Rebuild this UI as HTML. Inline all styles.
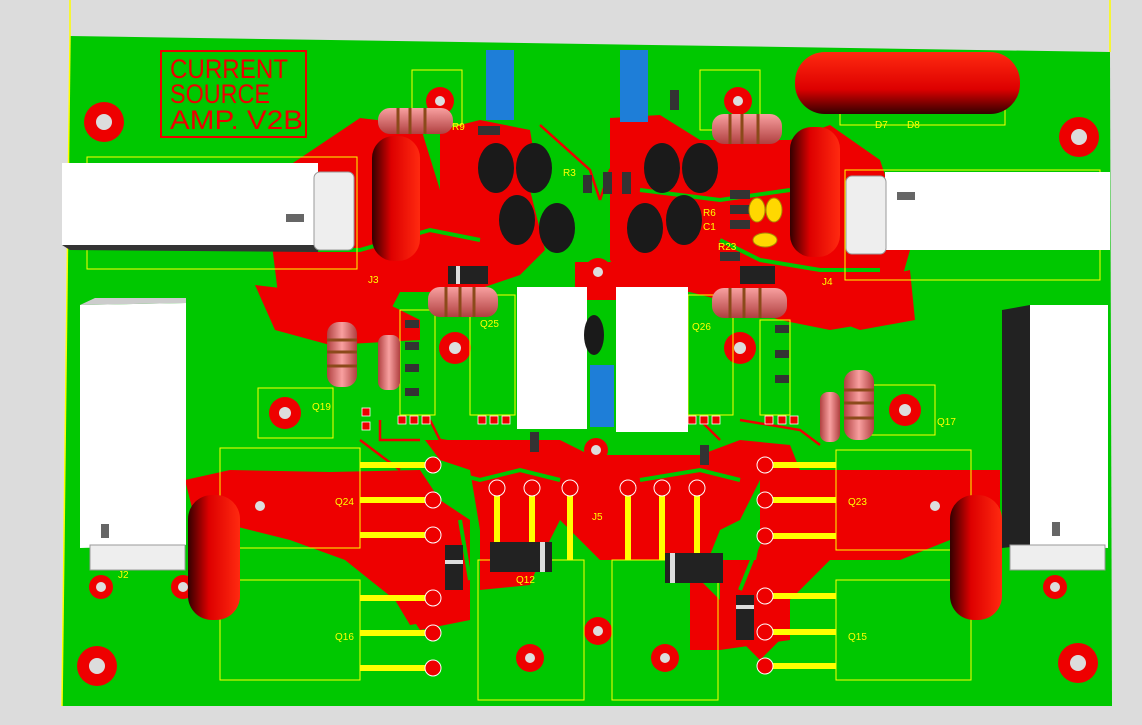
<!DOCTYPE html>
<html><head><style>
html,body{margin:0;padding:0;background:#dcdcdc;}
svg{display:block;font-family:"Liberation Sans",sans-serif;}
</style></head><body>
<svg width="1142" height="725" viewBox="0 0 1142 725" xmlns="http://www.w3.org/2000/svg">
<defs>
<linearGradient id="cap" x1="0" y1="0" x2="0" y2="1"><stop offset="0" stop-color="#ff2a10"/><stop offset="0.6" stop-color="#d00"/><stop offset="1" stop-color="#300"/></linearGradient>
<linearGradient id="capv" x1="0" y1="0" x2="1" y2="0"><stop offset="0" stop-color="#300"/><stop offset="0.4" stop-color="#d00"/><stop offset="1" stop-color="#ff2a10"/></linearGradient>
<linearGradient id="res" x1="0" y1="0" x2="0" y2="1"><stop offset="0" stop-color="#f8a0a0"/><stop offset="1" stop-color="#b04040"/></linearGradient>
<linearGradient id="resv" x1="0" y1="0" x2="1" y2="0"><stop offset="0" stop-color="#b04040"/><stop offset="0.5" stop-color="#f8a0a0"/><stop offset="1" stop-color="#b04040"/></linearGradient>
</defs>
<rect width="1142" height="725" fill="#dcdcdc"/>
<line x1="70" y1="0" x2="70" y2="36" stroke="#ff0" stroke-width="1.5"/>
<line x1="1110" y1="0" x2="1110" y2="52" stroke="#ff0" stroke-width="1.5"/>
<polygon points="70,36 1110,52 1112,706 62,706" fill="#00c800"/>
<line x1="70" y1="36" x2="62" y2="706" stroke="#ff0" stroke-width="1.5"/>
<!-- red copper -->
<g fill="#ee0000">
<polygon points="275,175 360,118 420,125 440,190 530,190 545,250 520,275 470,292 400,292 380,330 300,330 280,310 272,245 300,220"/>
<polygon points="255,285 380,300 420,320 420,340 330,345 275,330"/>
<polygon points="440,130 480,120 530,130 540,190 440,190"/>
<polygon points="610,118 660,115 700,140 790,140 830,125 880,160 910,250 890,320 830,330 780,320 720,300 690,292 630,292 610,260"/>
<polygon points="780,300 910,270 915,320 860,330"/>
<polygon points="575,262 670,262 670,300 575,300"/>
<polygon points="185,480 230,470 330,472 420,470 440,500 470,520 470,600 440,620 410,625 395,600 345,560 290,540 230,525 200,540"/>
<polygon points="425,440 560,440 590,455 700,455 740,440 790,445 800,470 760,480 740,520 720,530 700,580 730,610 720,650 690,650 690,560 650,560 600,560 560,520 540,560 530,585 480,590 480,530 470,470 440,460"/>
<polygon points="760,470 840,470 1000,470 1000,520 900,560 830,560 790,600 780,640 760,660 740,640 760,540"/>
<polygon points="400,540 470,540 470,620 420,630 400,600"/>
<polygon points="720,560 790,560 790,640 720,650"/>
</g>
<!-- green traces over red -->
<g stroke="#00c800" stroke-width="4" fill="none">
<polyline points="300,250 360,250 430,230 480,240"/>
<polyline points="430,300 540,300 560,320"/>
<polyline points="640,190 720,200 790,190"/>
<polyline points="720,240 760,260 820,270 880,270"/>
<polyline points="440,470 480,480 520,470 560,480"/>
<polyline points="640,480 700,470 740,480"/>
<polyline points="460,520 470,580"/>
<polyline points="760,540 740,590"/>
</g>
<g stroke="#ee0000" stroke-width="2.5" fill="none">
<polyline points="540,125 590,170 600,200"/>
<polyline points="650,125 610,170 600,200"/>
<polyline points="380,420 380,440 420,440"/>
<polyline points="740,420 800,430 820,445"/>
<polyline points="360,440 400,470"/>
<polyline points="430,420 440,440 470,445"/>
<polyline points="700,420 720,440"/>
</g>
<!-- mounting holes -->
<g>
<circle cx="104" cy="122" r="20" fill="#ee0000"/><circle cx="104" cy="122" r="8" fill="#dcdcdc"/>
<circle cx="1079" cy="137" r="20" fill="#ee0000"/><circle cx="1079" cy="137" r="8" fill="#dcdcdc"/>
<circle cx="97" cy="666" r="20" fill="#ee0000"/><circle cx="97" cy="666" r="8" fill="#dcdcdc"/>
<circle cx="1078" cy="663" r="20" fill="#ee0000"/><circle cx="1078" cy="663" r="8" fill="#dcdcdc"/>
<circle cx="101" cy="587" r="12" fill="#ee0000"/><circle cx="101" cy="587" r="5" fill="#ddd"/>
<circle cx="183" cy="587" r="12" fill="#ee0000"/><circle cx="183" cy="587" r="5" fill="#ddd"/>
<circle cx="1055" cy="587" r="12" fill="#ee0000"/><circle cx="1055" cy="587" r="5" fill="#ddd"/>
<circle cx="285" cy="413" r="16" fill="#ee0000"/><circle cx="285" cy="413" r="6" fill="#ddd"/>
<circle cx="905" cy="410" r="16" fill="#ee0000"/><circle cx="905" cy="410" r="6" fill="#ddd"/>
<circle cx="455" cy="348" r="16" fill="#ee0000"/><circle cx="455" cy="348" r="6" fill="#ddd"/>
<circle cx="740" cy="348" r="16" fill="#ee0000"/><circle cx="740" cy="348" r="6" fill="#ddd"/>
<circle cx="598" cy="272" r="14" fill="#ee0000"/><circle cx="598" cy="272" r="5" fill="#ddd"/>
<circle cx="598" cy="631" r="14" fill="#ee0000"/><circle cx="598" cy="631" r="5" fill="#ddd"/>
<circle cx="596" cy="450" r="12" fill="#ee0000"/><circle cx="596" cy="450" r="5" fill="#ddd"/>
<circle cx="530" cy="658" r="14" fill="#ee0000"/><circle cx="530" cy="658" r="5" fill="#ddd"/>
<circle cx="665" cy="658" r="14" fill="#ee0000"/><circle cx="665" cy="658" r="5" fill="#ddd"/>
<circle cx="738" cy="101" r="14" fill="#ee0000"/><circle cx="738" cy="101" r="5" fill="#ddd"/>
<circle cx="440" cy="101" r="14" fill="#ee0000"/><circle cx="440" cy="101" r="5" fill="#ddd"/>
<circle cx="260" cy="506" r="14" fill="#ee0000"/><circle cx="260" cy="506" r="5" fill="#ddd"/>
<circle cx="935" cy="506" r="14" fill="#ee0000"/><circle cx="935" cy="506" r="5" fill="#ddd"/>
</g>
<!-- title -->
<rect x="161" y="51" width="145" height="86" fill="none" stroke="#ee0000" stroke-width="2"/>
<text x="170" y="78" fill="#ee0000" font-size="27" font-family="Liberation Sans Narrow,Liberation Sans,sans-serif" textLength="118" lengthAdjust="spacingAndGlyphs">CURRENT</text>
<text x="170" y="103" fill="#ee0000" font-size="27" font-family="Liberation Sans Narrow,Liberation Sans,sans-serif" textLength="100" lengthAdjust="spacingAndGlyphs">SOURCE</text>
<text x="170" y="129" fill="#ee0000" font-size="27" font-family="Liberation Sans Narrow,Liberation Sans,sans-serif" textLength="133" lengthAdjust="spacingAndGlyphs">AMP. V2B</text>
<!-- silkscreen outlines -->
<g fill="none" stroke="#ffff00" stroke-width="1">
<rect x="87" y="157" width="270" height="112"/>
<rect x="845" y="170" width="255" height="110"/>
<rect x="220" y="448" width="140" height="100"/>
<rect x="220" y="580" width="140" height="100"/>
<rect x="836" y="450" width="135" height="100"/>
<rect x="836" y="580" width="135" height="100"/>
<rect x="478" y="560" width="106" height="140"/>
<rect x="612" y="560" width="106" height="140"/>
<rect x="258" y="388" width="75" height="50"/>
<rect x="860" y="385" width="75" height="50"/>
<rect x="470" y="295" width="45" height="120"/>
<rect x="688" y="295" width="45" height="120"/>
<rect x="412" y="70" width="50" height="55"/>
<rect x="700" y="70" width="60" height="60"/>
<rect x="840" y="80" width="165" height="45"/>
<rect x="400" y="310" width="35" height="105"/>
<rect x="760" y="320" width="30" height="95"/>
</g>
<!-- yellow leads bottom -->
<g stroke="#ffff00" stroke-width="6">
<line x1="360" y1="465" x2="432" y2="465"/><line x1="360" y1="500" x2="432" y2="500"/><line x1="360" y1="535" x2="432" y2="535"/>
<line x1="360" y1="598" x2="432" y2="598"/><line x1="360" y1="633" x2="432" y2="633"/><line x1="360" y1="668" x2="432" y2="668"/>
<line x1="766" y1="465" x2="836" y2="465"/><line x1="766" y1="500" x2="836" y2="500"/><line x1="766" y1="536" x2="836" y2="536"/>
<line x1="766" y1="596" x2="836" y2="596"/><line x1="766" y1="632" x2="836" y2="632"/><line x1="766" y1="666" x2="836" y2="666"/>
<line x1="497" y1="488" x2="497" y2="560"/><line x1="532" y1="488" x2="532" y2="560"/><line x1="570" y1="488" x2="570" y2="560"/>
<line x1="628" y1="488" x2="628" y2="560"/><line x1="662" y1="488" x2="662" y2="560"/><line x1="697" y1="488" x2="697" y2="560"/>
</g>
<g fill="#ee0000" stroke="#fff" stroke-width="1">
<circle cx="433" cy="465" r="8"/><circle cx="433" cy="500" r="8"/><circle cx="433" cy="535" r="8"/>
<circle cx="433" cy="598" r="8"/><circle cx="433" cy="633" r="8"/><circle cx="433" cy="668" r="8"/>
<circle cx="765" cy="465" r="8"/><circle cx="765" cy="500" r="8"/><circle cx="765" cy="536" r="8"/>
<circle cx="765" cy="596" r="8"/><circle cx="765" cy="632" r="8"/><circle cx="765" cy="666" r="8"/>
<circle cx="497" cy="488" r="8"/><circle cx="532" cy="488" r="8"/><circle cx="570" cy="488" r="8"/>
<circle cx="628" cy="488" r="8"/><circle cx="662" cy="488" r="8"/><circle cx="697" cy="488" r="8"/>
</g>
<!-- small smd pads -->
<g fill="#ee0000" stroke="#fff" stroke-width="0.8">
<rect x="362" y="408" width="8" height="8"/><rect x="362" y="422" width="8" height="8"/>
<rect x="398" y="416" width="8" height="8"/><rect x="410" y="416" width="8" height="8"/><rect x="422" y="416" width="8" height="8"/>
<rect x="478" y="416" width="8" height="8"/><rect x="490" y="416" width="8" height="8"/><rect x="502" y="416" width="8" height="8"/>
<rect x="688" y="416" width="8" height="8"/><rect x="700" y="416" width="8" height="8"/><rect x="712" y="416" width="8" height="8"/>
<rect x="765" y="416" width="8" height="8"/><rect x="778" y="416" width="8" height="8"/><rect x="790" y="416" width="8" height="8"/>
</g>
<g fill="#333">
<rect x="405" y="320" width="14" height="8"/><rect x="405" y="342" width="14" height="8"/><rect x="405" y="364" width="14" height="8"/><rect x="405" y="388" width="14" height="8"/>
<rect x="775" y="325" width="14" height="8"/><rect x="775" y="350" width="14" height="8"/><rect x="775" y="375" width="14" height="8"/>
<rect x="478" y="126" width="22" height="9"/><rect x="583" y="175" width="9" height="18"/><rect x="603" y="172" width="9" height="22"/><rect x="622" y="172" width="9" height="22"/>
<rect x="670" y="90" width="9" height="20"/><rect x="730" y="190" width="20" height="9"/><rect x="730" y="205" width="20" height="9"/><rect x="730" y="220" width="20" height="9"/>
<rect x="720" y="252" width="20" height="9"/><rect x="700" y="445" width="9" height="20"/><rect x="530" y="432" width="9" height="20"/>
</g>
<!-- white connectors -->
<polygon points="62,163 318,163 318,245 62,245" fill="#fff"/>
<polygon points="62,245 318,245 318,252 70,250" fill="#333"/>
<rect x="286" y="214" width="18" height="8" fill="#666"/>
<rect x="314" y="172" width="40" height="78" fill="#eee" stroke="#999" rx="6"/>
<polygon points="885,172 1110,172 1110,250 885,250" fill="#fff"/>
<rect x="846" y="176" width="40" height="78" fill="#eee" stroke="#999" rx="6"/>
<rect x="897" y="192" width="18" height="8" fill="#666"/>
<polygon points="80,305 186,303 186,545 80,548" fill="#fff"/>
<polygon points="80,305 95,298 186,298 186,303" fill="#ccc"/>
<rect x="101" y="524" width="8" height="14" fill="#666"/>
<rect x="90" y="545" width="95" height="25" fill="#eee" stroke="#999"/>
<polygon points="1002,310 1030,305 1030,545 1002,548" fill="#222"/>
<polygon points="1030,305 1108,305 1108,548 1030,545" fill="#fff"/>
<rect x="1052" y="522" width="8" height="14" fill="#666"/>
<rect x="1010" y="545" width="95" height="25" fill="#eee" stroke="#999"/>
<rect x="517" y="287" width="70" height="142" fill="#fff"/>
<rect x="616" y="287" width="72" height="145" fill="#fff"/>
<!-- blue trimmers -->
<rect x="486" y="50" width="28" height="70" fill="#1e7ed8"/>
<rect x="620" y="50" width="28" height="72" fill="#1e7ed8"/>
<rect x="590" y="365" width="24" height="62" fill="#1e7ed8"/>
<!-- black transistors -->
<g fill="#1a1a1a">
<ellipse cx="496" cy="168" rx="18" ry="25"/><ellipse cx="534" cy="168" rx="18" ry="25"/>
<ellipse cx="517" cy="220" rx="18" ry="25"/><ellipse cx="557" cy="228" rx="18" ry="25"/>
<ellipse cx="662" cy="168" rx="18" ry="25"/><ellipse cx="700" cy="168" rx="18" ry="25"/>
<ellipse cx="645" cy="228" rx="18" ry="25"/><ellipse cx="684" cy="220" rx="18" ry="25"/>
<ellipse cx="594" cy="335" rx="10" ry="20"/>
</g>
<g fill="#ffd800" stroke="#aa8800">
<ellipse cx="757" cy="210" rx="8" ry="12"/><ellipse cx="774" cy="210" rx="8" ry="12"/><ellipse cx="765" cy="240" rx="12" ry="7"/>
</g>
<!-- big red caps -->
<rect x="795" y="52" width="225" height="62" rx="30" fill="url(#cap)"/>
<rect x="372" y="136" width="48" height="125" rx="22" fill="url(#capv)"/>
<rect x="790" y="127" width="50" height="130" rx="22" fill="url(#capv)"/>
<rect x="188" y="495" width="52" height="125" rx="24" fill="url(#capv)"/>
<rect x="950" y="495" width="52" height="125" rx="24" fill="url(#capv)"/>
<!-- resistors -->
<g>
<rect x="378" y="108" width="75" height="26" rx="12" fill="url(#res)"/>
<rect x="712" y="114" width="70" height="30" rx="12" fill="url(#res)"/>
<rect x="428" y="287" width="70" height="30" rx="12" fill="url(#res)"/>
<rect x="712" y="288" width="75" height="30" rx="12" fill="url(#res)"/>
<rect x="327" y="322" width="30" height="65" rx="12" fill="url(#resv)"/>
<rect x="378" y="335" width="22" height="55" rx="8" fill="url(#resv)"/>
<rect x="844" y="370" width="30" height="70" rx="12" fill="url(#resv)"/>
<rect x="820" y="392" width="20" height="50" rx="8" fill="url(#resv)"/>
<g stroke="#8b4a1a" stroke-width="3">
<line x1="398" y1="108" x2="398" y2="134"/><line x1="410" y1="108" x2="410" y2="134"/><line x1="425" y1="108" x2="425" y2="134"/>
<line x1="730" y1="114" x2="730" y2="144"/><line x1="742" y1="114" x2="742" y2="144"/><line x1="758" y1="114" x2="758" y2="144"/>
<line x1="446" y1="287" x2="446" y2="317"/><line x1="460" y1="287" x2="460" y2="317"/><line x1="474" y1="287" x2="474" y2="317"/>
<line x1="730" y1="288" x2="730" y2="318"/><line x1="744" y1="288" x2="744" y2="318"/><line x1="760" y1="288" x2="760" y2="318"/>
<line x1="327" y1="340" x2="357" y2="340"/><line x1="327" y1="352" x2="357" y2="352"/><line x1="327" y1="366" x2="357" y2="366"/>
<line x1="844" y1="390" x2="874" y2="390"/><line x1="844" y1="403" x2="874" y2="403"/><line x1="844" y1="418" x2="874" y2="418"/>
</g>
</g>
<!-- diodes -->
<g>
<rect x="448" y="266" width="40" height="18" fill="#222"/><rect x="456" y="266" width="4" height="18" fill="#ddd"/>
<rect x="490" y="542" width="62" height="30" fill="#222"/><rect x="540" y="542" width="5" height="30" fill="#ddd"/>
<rect x="665" y="553" width="58" height="30" fill="#222"/><rect x="670" y="553" width="5" height="30" fill="#ddd"/>
<rect x="445" y="545" width="18" height="45" fill="#222"/><rect x="445" y="560" width="18" height="4" fill="#ddd"/>
<rect x="736" y="595" width="18" height="45" fill="#222"/><rect x="736" y="605" width="18" height="4" fill="#ddd"/>
<rect x="740" y="266" width="35" height="18" fill="#222"/>
</g>
<g fill="#ffff00" font-size="10">
<text x="312" y="410">Q19</text><text x="480" y="327">Q25</text><text x="692" y="330">Q26</text>
<text x="937" y="425">Q17</text><text x="335" y="505">Q24</text><text x="848" y="505">Q23</text>
<text x="335" y="640">Q16</text><text x="848" y="640">Q15</text><text x="516" y="583">Q12</text>
<text x="875" y="128">D7</text><text x="907" y="128">D8</text><text x="118" y="578">J2</text><text x="368" y="283">J3</text><text x="822" y="285">J4</text><text x="592" y="520">J5</text>
<text x="563" y="176">R3</text><text x="703" y="216">R6</text><text x="703" y="230">C1</text><text x="718" y="250">R23</text><text x="452" y="130">R9</text>
</g>
</svg>
</body></html>
